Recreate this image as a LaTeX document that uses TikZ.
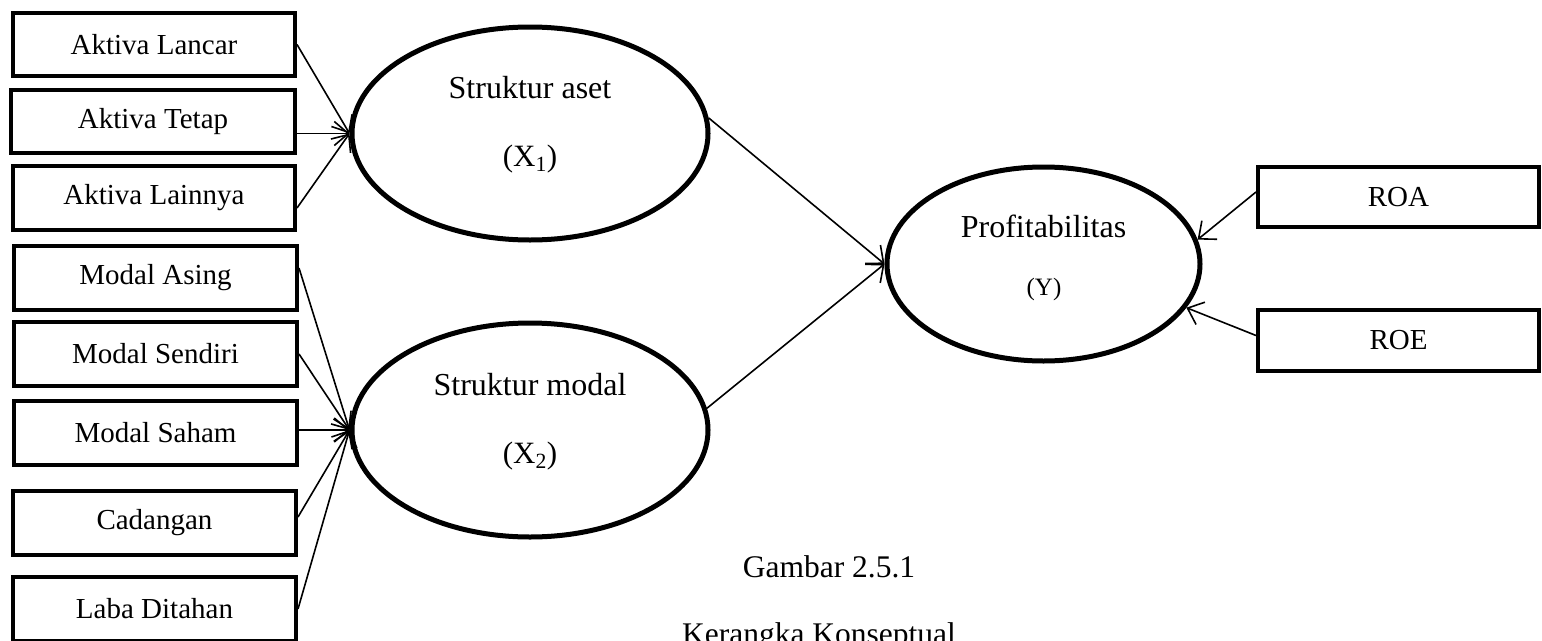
\documentclass[tikz,border=0pt]{standalone}
\usepackage{fontspec}
\setmainfont{Liberation Serif}
\usetikzlibrary{shapes.geometric,arrows.meta,calc}
\begin{document}
\begin{tikzpicture}[x=1pt,y=-1pt,
  box/.style={draw,line width=4pt,rectangle,inner sep=0pt,minimum width=282pt,minimum height=63pt,font=\fontsize{29}{34}\selectfont},
  ell/.style={draw,line width=5pt,ellipse,inner sep=0pt},
  etext/.style={anchor=base,inner sep=0pt,font=\fontsize{32}{38}\selectfont},
  xtext/.style={anchor=base,inner sep=0pt,font=\fontsize{31}{37}\selectfont},
  ytext/.style={anchor=base,inner sep=0pt,font=\fontsize{25}{30}\selectfont},
  captext/.style={anchor=base,inner sep=0pt,font=\fontsize{31.5}{37}\selectfont},
  conn/.style={line width=1.6pt,-{Straight Barb[length=14pt,width=24pt,line width=1.6pt]}}
]
\useasboundingbox (0,0) rectangle (1542,640);
% left boxes
\node[box] (b1) at (154,44.5) {Aktiva Lancar};
\node[box,minimum width=284pt] (b2) at (153,121.5) {Aktiva Tetap};
\node[box,minimum height=64pt] (b3) at (154,198) {Aktiva Lainnya};
\node[box,minimum width=283pt,minimum height=64pt] (b4) at (155.5,278) {Modal Asing};
\node[box,minimum width=283pt,minimum height=64pt] (b5) at (155.5,354) {Modal Sendiri};
\node[box,minimum width=283pt,minimum height=64pt] (b6) at (155.5,433) {Modal Saham};
\node[box,minimum width=283pt,minimum height=64pt] (b7) at (154.5,523) {Cadangan};
\node[box,minimum width=283pt,minimum height=64pt] (b8) at (154.5,609) {Laba Ditahan};
% right boxes
\node[box,minimum width=281pt,minimum height=60pt] (roa) at (1398.5,197) {ROA};
\node[box,minimum width=281pt,minimum height=61pt] (roe) at (1398.5,340.5) {ROE};
% ellipses
\node[ell,minimum width=356pt,minimum height=213pt] (e1) at (530,133.5) {};
\node[ell,minimum width=356pt,minimum height=214pt] (e2) at (530,430) {};
\node[ell,minimum width=313pt,minimum height=194pt] (e3) at (1043.5,264) {};
\node[etext] (t1) at (530,98) {Struktur aset};
\node[xtext] (x1) at (530,166) {(X\textsubscript{1})};
\node[etext] (t2) at (530,395) {Struktur modal};
\node[xtext] (x2) at (530,463) {(X\textsubscript{2})};
\node[etext] (t3) at (1043.5,237) {Profitabilitas};
\node[ytext] (y3) at (1044,295) {(Y)};
% caption
\node[captext] (g1) at (829,577) {Gambar 2.5.1};
\node[captext] (g2) at (819,644) {Kerangka Konseptual};
% connectors
\draw[conn] (b1.east) -- (e1.west);
\draw[conn] (b2.east |- e1.west) -- (e1.west);
\draw[conn] ($(b3.east)+(0,10)$) -- (e1.west);
\draw[conn] ($(b4.east)+(0,-10)$) -- (e2.west);
\draw[conn] (b5.east) -- (e2.west);
\draw[conn] (b6.east |- e2.west) -- (e2.west);
\draw[conn] ($(b7.east)+(0,-6)$) -- (e2.west);
\draw[conn] (b8.east) -- (e2.west);
\draw[conn] (e1.5) -- (e3.west);
\draw[conn] (e2.7) -- (e3.west);
\draw[conn] ($(roa.west)+(0,-5)$) -- (e3.9);
\draw[conn] ($(roe.west)+(0,-5)$) -- (e3.-17);
\end{tikzpicture}
\end{document}
